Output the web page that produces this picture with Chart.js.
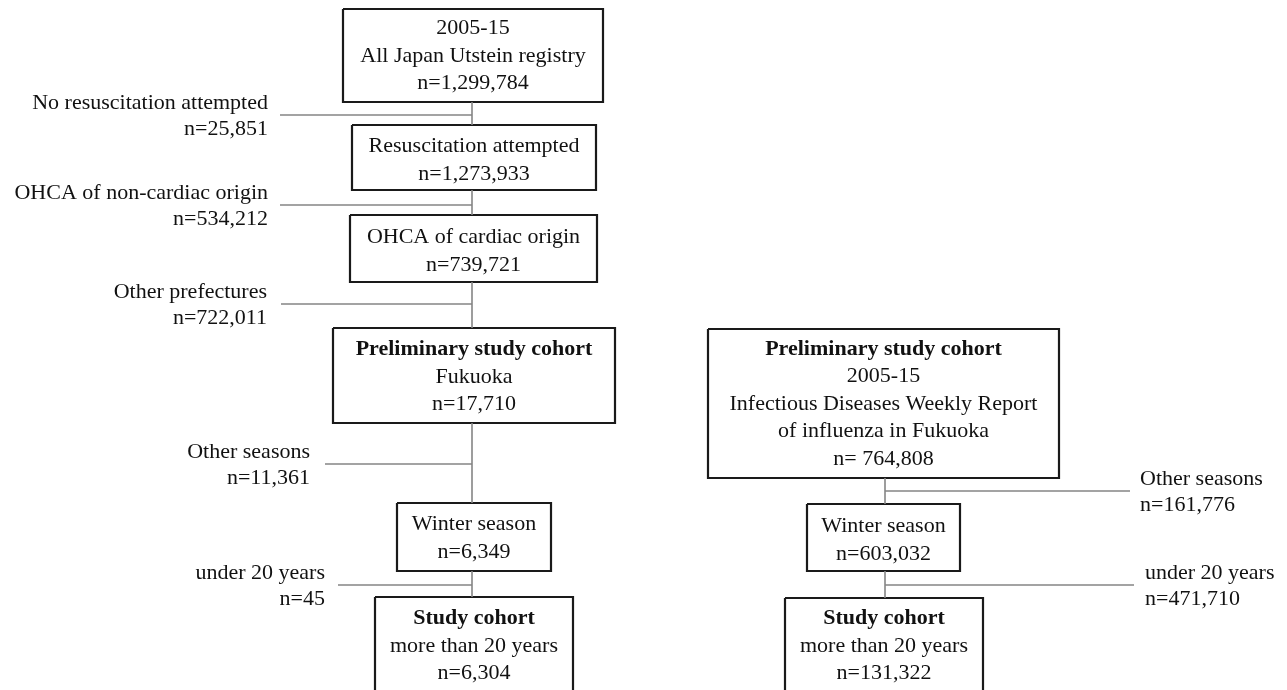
<!DOCTYPE html>
<html>
<head>
<meta charset="utf-8">
<script src="https://cdn.jsdelivr.net/npm/chart.js@4"></script>
<style>
  html, body { margin: 0; padding: 0; background: #fff; }
  #wrap { width: 1287px; height: 690px; }
</style>
</head>
<body>
<div id="wrap"><canvas id="flow" width="1287" height="690"></canvas></div>
<script>
// ---------- data ----------
const leftTitles = ['', '', '', 'Preliminary study cohort', '', 'Study cohort'];
const leftLines = [
  ['2005-15', 'All Japan Utstein registry'],
  ['Resuscitation attempted'],
  ['OHCA of cardiac origin'],
  ['Fukuoka'],
  ['Winter season'],
  ['more than 20 years']
];
const leftCounts = [1299784, 1273933, 739721, 17710, 6349, 6304];
const leftExclLabels = ['No resuscitation attempted', 'OHCA of non-cardiac origin', 'Other prefectures', 'Other seasons', 'under 20 years'];
const leftExclCounts = [25851, 534212, 722011, 11361, 45];

const rightTitles = ['Preliminary study cohort', '', 'Study cohort'];
const rightLines = [
  ['2005-15', 'Infectious Diseases Weekly Report', 'of influenza in Fukuoka'],
  ['Winter season'],
  ['more than 20 years']
];
const rightCounts = [764808, 603032, 131322];
const rightCountPrefix = ['n= ', 'n=', 'n='];
const rightExclLabels = ['Other seasons', 'under 20 years'];
const rightExclCounts = [161776, 471710];

// ---------- layout (diagram units = px of the 1287x690 frame) ----------
const leftAxisX = 472;
const rightAxisX = 885;
const leftBoxes = [
  { x0: 343, x1: 603, y0: 9, y1: 102 },
  { x0: 352, x1: 596, y0: 125, y1: 190 },
  { x0: 350, x1: 597, y0: 215, y1: 282 },
  { x0: 333, x1: 615, y0: 328, y1: 423 },
  { x0: 397, x1: 551, y0: 503, y1: 571 },
  { x0: 375, x1: 573, y0: 597, y1: 700 }
];
const leftExcl = [
  { y: 115, x0: 280, textX: 268 },
  { y: 205, x0: 280, textX: 268 },
  { y: 304, x0: 281, textX: 267 },
  { y: 464, x0: 325, textX: 310 },
  { y: 585, x0: 338, textX: 325 }
];
const rightBoxes = [
  { x0: 708, x1: 1059, y0: 329, y1: 478 },
  { x0: 807, x1: 960, y0: 504, y1: 571 },
  { x0: 785, x1: 983, y0: 598, y1: 700 }
];
const rightExcl = [
  { y: 491, x1: 1130, textX: 1140 },
  { y: 585, x1: 1134, textX: 1145 }
];
const textCenters = { left: [56, 160, 251, 377, 538, 646], right: [404, 540, 646] };
const lineGap = 27.5;

const FONT = '"Liberation Serif", "DejaVu Serif", serif';
const FONT_SIZE = 22;
const BOX_COLOR = '#1a1a1a';
const LINE_COLOR = '#858585';

function fmt(n) { return n.toLocaleString('en-US'); }

// ---------- datasets: boxes and connector lines ----------
const datasets = [];
function rectDs(b) {
  return {
    data: [{ x: b.x0, y: b.y0 }, { x: b.x1, y: b.y0 }, { x: b.x1, y: b.y1 }, { x: b.x0, y: b.y1 }, { x: b.x0, y: b.y0 }],
    showLine: true, borderColor: BOX_COLOR, borderWidth: 2.2, pointRadius: 0, fill: false
  };
}
function segDs(a, b) {
  return {
    data: [a, b], showLine: true, borderColor: LINE_COLOR, borderWidth: 1.6, pointRadius: 0, fill: false
  };
}
for (let i = 0; i < leftBoxes.length - 1; i++) {
  datasets.push(segDs({ x: leftAxisX, y: leftBoxes[i].y1 }, { x: leftAxisX, y: leftBoxes[i + 1].y0 }));
}
for (let i = 0; i < rightBoxes.length - 1; i++) {
  datasets.push(segDs({ x: rightAxisX, y: rightBoxes[i].y1 }, { x: rightAxisX, y: rightBoxes[i + 1].y0 }));
}
leftExcl.forEach(e => datasets.push(segDs({ x: e.x0, y: e.y }, { x: leftAxisX, y: e.y })));
rightExcl.forEach(e => datasets.push(segDs({ x: rightAxisX, y: e.y }, { x: e.x1, y: e.y })));
leftBoxes.forEach(b => datasets.push(rectDs(b)));
rightBoxes.forEach(b => datasets.push(rectDs(b)));

// ---------- text plugin ----------
const textPlugin = {
  id: 'flowText',
  afterDatasetsDraw(chart) {
    const ctx = chart.ctx;
    const xs = chart.scales.x, ys = chart.scales.y;
    ctx.save();
    ctx.fillStyle = '#111';
    ctx.textBaseline = 'middle';

    function boxText(cx, cy, title, lines, countStr) {
      const all = [];
      if (title) all.push({ t: title, bold: true });
      lines.forEach(l => all.push({ t: l, bold: false }));
      all.push({ t: countStr, bold: false });
      const start = cy - (all.length - 1) * lineGap / 2;
      ctx.textAlign = 'center';
      all.forEach((l, k) => {
        ctx.font = (l.bold ? 'bold ' : '') + FONT_SIZE + 'px ' + FONT;
        ctx.fillText(l.t, xs.getPixelForValue(cx), ys.getPixelForValue(start + k * lineGap));
      });
    }

    leftBoxes.forEach((b, i) => {
      boxText((b.x0 + b.x1) / 2, textCenters.left[i], leftTitles[i], leftLines[i], 'n=' + fmt(leftCounts[i]));
    });
    rightBoxes.forEach((b, i) => {
      boxText((b.x0 + b.x1) / 2, textCenters.right[i], rightTitles[i], rightLines[i], rightCountPrefix[i] + fmt(rightCounts[i]));
    });

    ctx.font = FONT_SIZE + 'px ' + FONT;
    ctx.textAlign = 'right';
    leftExcl.forEach((e, i) => {
      ctx.fillText(leftExclLabels[i], xs.getPixelForValue(e.textX), ys.getPixelForValue(e.y - 12));
      ctx.fillText('n=' + fmt(leftExclCounts[i]), xs.getPixelForValue(e.textX), ys.getPixelForValue(e.y + 14));
    });
    ctx.textAlign = 'left';
    rightExcl.forEach((e, i) => {
      ctx.fillText(rightExclLabels[i], xs.getPixelForValue(e.textX), ys.getPixelForValue(e.y - 12));
      ctx.fillText('n=' + fmt(rightExclCounts[i]), xs.getPixelForValue(e.textX), ys.getPixelForValue(e.y + 14));
    });
    ctx.restore();
  }
};

new Chart(document.getElementById('flow'), {
  type: 'scatter',
  data: { datasets },
  options: {
    responsive: false,
    animation: false,
    layout: { padding: 0 },
    scales: {
      x: { type: 'linear', min: 0, max: 1287, display: false },
      y: { type: 'linear', min: 0, max: 690, reverse: true, display: false }
    },
    plugins: { legend: { display: false }, tooltip: { enabled: false } },
    elements: { line: { tension: 0 } }
  },
  plugins: [textPlugin]
});
</script>
</body>
</html>
